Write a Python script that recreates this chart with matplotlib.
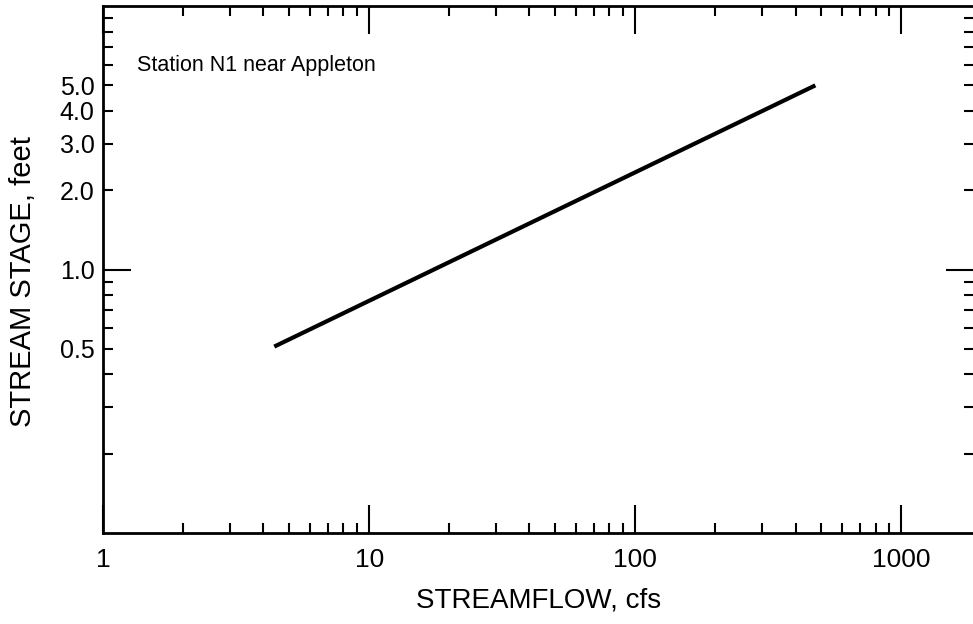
# Stage-discharge rating curve, log-log
import numpy as np
import matplotlib.pyplot as plt
from matplotlib.ticker import FixedLocator, FixedFormatter, NullFormatter

plt.rcParams['font.family'] = ['Liberation Sans', 'DejaVu Sans']

# rating curve end points
streamflow = [4.4, 475.0]   # cfs
stage = [0.51, 5.0]         # feet

x_ticks = [1, 10, 100, 1000]
x_labels = ['1', '10', '100', '1000']
y_minor = [0.2, 0.3, 0.4, 0.5, 0.6, 0.7, 0.8, 0.9, 2, 3, 4, 5, 6, 7, 8, 9]
y_minor_labels = ['', '', '', '0.5', '', '', '', '', '2.0', '3.0', '4.0', '5.0', '', '', '', '']

fig = plt.figure(figsize=(9.73, 6.24), dpi=100)
ax = fig.add_axes([0.1059, 0.1458, 0.8955, 0.8445])

ax.plot(streamflow, stage, color='black', lw=3.0, solid_capstyle='butt')

ax.set_xscale('log')
ax.set_yscale('log')
ax.set_xlim(1, 1880)
ax.set_ylim(0.1, 10)

# x axis: decades plus 2..9 minor ticks
ax.xaxis.set_major_locator(FixedLocator(x_ticks))
ax.xaxis.set_major_formatter(FixedFormatter(x_labels))
ax.xaxis.set_minor_locator(FixedLocator([m * d for d in (1, 10, 100, 1000) for m in range(2, 10)]))
ax.xaxis.set_minor_formatter(NullFormatter())

# y axis: only 1.0 gets a long tick, the rest are short labelled ones
ax.yaxis.set_major_locator(FixedLocator([1.0]))
ax.yaxis.set_major_formatter(FixedFormatter(['1.0']))
ax.yaxis.set_minor_locator(FixedLocator(y_minor))
ax.yaxis.set_minor_formatter(FixedFormatter(y_minor_labels))

ax.tick_params(which='both', direction='in', top=True, right=True, width=1.5, color='black')
ax.tick_params(which='major', length=20)
ax.tick_params(which='minor', length=7)
ax.tick_params(axis='x', which='both', labelsize=19, pad=11)
ax.tick_params(axis='y', which='both', labelsize=18, pad=6)

for s in ax.spines.values():
    s.set_linewidth(2)

ax.set_xlabel('STREAMFLOW, cfs', fontsize=20, labelpad=11)
ax.set_ylabel('STREAM STAGE, feet', fontsize=21)
ax.yaxis.set_label_coords(-0.076, 0.478)

ax.text(0.039, 0.888, 'Station N1 near Appleton', transform=ax.transAxes,
        fontsize=15.5, va='center', ha='left')

fig.savefig('out.png', dpi=100)
